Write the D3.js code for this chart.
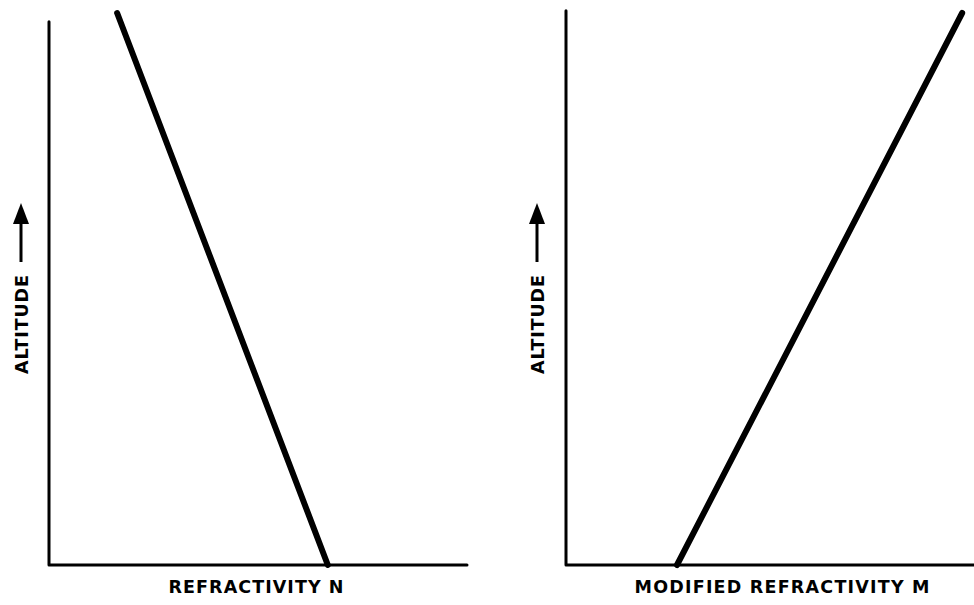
<!DOCTYPE html>
<html><head><meta charset="utf-8">
<script src="https://cdn.jsdelivr.net/npm/d3@7"></script>
<style>body{margin:0;background:#fff}svg{display:block}</style>
</head><body>
<svg id="c" width="974" height="605"></svg>
<script>
// Data (abstract units, domain 0..100)
const panels = ["left", "right"];
const xLabels = ["REFRACTIVITY N", "MODIFIED REFRACTIVITY M"];
const yLabels = ["ALTITUDE", "ALTITUDE"];
const altitude = [0, 100];
const refractivityN = [66.7, 16.3];   // N decreases with altitude
const modifiedM = [27.2, 97.1];        // M increases with altitude
const yAxisTop = [98.4, 100.4];

const svg = d3.select("#c");
const y = d3.scaleLinear().domain([0, 100]).range([565, 13]);
const xs = [
  d3.scaleLinear().domain([0, 100]).range([49, 467]),
  d3.scaleLinear().domain([0, 100]).range([566, 974])
];
const series = [refractivityN, modifiedM];
const labelCx = [256, 782];
const labelW = [175, 295];
const altX = [21, 537];

panels.forEach((p, i) => {
  const x = xs[i];
  const g = svg.append("g");
  // axes
  g.append("path")
    .attr("d", d3.line()([[x(0), y(yAxisTop[i])], [x(0), y(0)], [x(100), y(0)]]))
    .attr("fill", "none").attr("stroke", "#000").attr("stroke-width", 3)
    .attr("stroke-linejoin", "round").attr("stroke-linecap", "round");
  // data line
  const pts = altitude.map((a, k) => [x(series[i][k]), y(a)]);
  g.append("path")
    .attr("d", d3.line()(pts))
    .attr("fill", "none").attr("stroke", "#000").attr("stroke-width", 6)
    .attr("stroke-linecap", "round");
  // x label
  g.append("text")
    .attr("x", labelCx[i] - labelW[i] / 2).attr("y", 593)
    .attr("textLength", labelW[i]).attr("lengthAdjust", "spacing")
    .attr("font-family", "DejaVu Sans, Liberation Sans, Arial, sans-serif")
    .attr("font-weight", "bold").attr("font-size", 17.5)
    .text(xLabels[i]);
  // y label rotated
  const ax = altX[i];
  g.append("text")
    .attr("transform", `translate(${ax + 7},374) rotate(-90)`)
    .attr("textLength", 99).attr("lengthAdjust", "spacing")
    .attr("font-family", "DejaVu Sans, Liberation Sans, Arial, sans-serif")
    .attr("font-weight", "bold").attr("font-size", 17.5)
    .text(yLabels[i]);
  // arrow
  g.append("line").attr("x1", ax).attr("x2", ax).attr("y1", 262).attr("y2", 220)
    .attr("stroke", "#000").attr("stroke-width", 3);
  g.append("path")
    .attr("d", d3.line()([[ax - 8, 224], [ax, 203], [ax + 8, 224]]) + "Z")
    .attr("fill", "#000");
});
</script>
</body></html>
